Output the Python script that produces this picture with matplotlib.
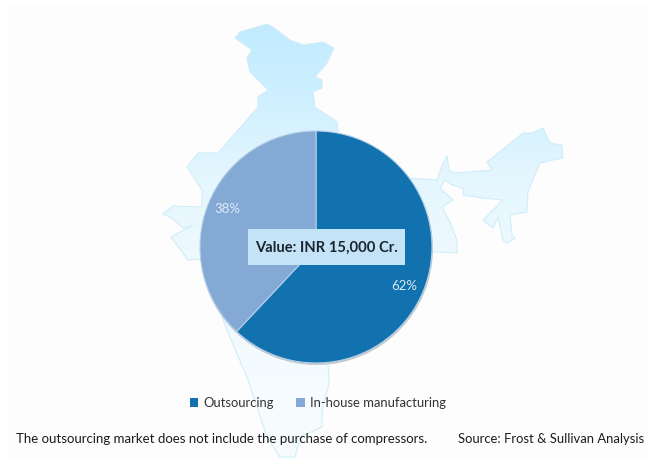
import numpy as np
import matplotlib
matplotlib.use("Agg")
import matplotlib.pyplot as plt
from matplotlib.patches import Polygon, Circle, Rectangle

categories = ["Outsourcing", "In-house manufacturing"]
shares = [62, 38]
slice_colors = ["#1272b0", "#84a9d4"]
value_label = "Value: INR 15,000 Cr."
footnote = "The outsourcing market does not include the purchase of compressors."
source = "Source: Frost & Sullivan Analysis"

# Decorative backdrop: outline of the map of India, in image pixels
map_outline = [
    (235, 38), (240, 32), (267, 24), (273, 27), (290, 40), (303, 45), (323, 42), (334, 48),
    (327, 63), (315, 77), (322, 80), (322, 88), (313, 92), (315, 107), (337, 122), (338, 132),
    (410, 178), (437, 180), (443, 163), (447, 156), (449, 170), (455, 173), (492, 170),
    (487, 162), (523, 133), (532, 133), (543, 128), (550, 143), (562, 145), (563, 158),
    (553, 160), (540, 163), (528, 192), (527, 212), (510, 215), (512, 235), (515, 238),
    (507, 243), (503, 240), (498, 217), (493, 228), (483, 220), (503, 200), (483, 198),
    (463, 195), (463, 188), (452, 185), (445, 180), (440, 188), (453, 200), (442, 207),
    (450, 222), (457, 240), (457, 253), (440, 252), (428, 252), (400, 300), (328, 362),
    (329, 383), (322, 410), (322, 427), (300, 437), (295, 457), (280, 457), (267, 437),
    (247, 377), (228, 333), (202, 259),
    (188, 260), (171, 237), (193, 225), (183, 228), (172, 218), (163, 214), (173, 206),
    (202, 207), (202, 190), (187, 167), (198, 153), (218, 153), (258, 107), (258, 97),
    (268, 90), (250, 72), (247, 58), (252, 50),
]

W, H = 652, 459
plt.rcParams["font.family"] = ["Lato", "DejaVu Sans"]
fig = plt.figure(figsize=(W / 100, H / 100), dpi=100, facecolor="white")

bg = fig.add_axes([0, 0, 1, 1])
bg.set_xlim(0, W)
bg.set_ylim(H, 0)
bg.axis("off")
bg.add_patch(Rectangle((8, 6), 640, 453, fc="#fdfdfd", ec="none", zorder=0))

# Map with vertical gradient fill (colour stops by image row)
stop_y = [30, 100, 170, 250, 400]
stop_c = np.array([[0xc2, 0xeb, 0xff], [0xcf, 0xf0, 0xff], [0xe3, 0xf6, 0xfe],
                   [0xee, 0xf9, 0xfe], [0xf6, 0xfc, 0xfe]]) / 255
rows = np.arange(20, 459)
grad = np.stack([np.interp(rows, stop_y, stop_c[:, i]) for i in range(3)], axis=1)[:, None, :]
im = bg.imshow(grad, extent=(150, 580, 459, 20), aspect="auto", zorder=1)
bg.set_xlim(0, W)
bg.set_ylim(H, 0)
poly = Polygon(map_outline, closed=True, fc="none", ec="#d0edf8", lw=0.8, zorder=2)
bg.add_patch(poly)
im.set_clip_path(poly)

# Pie shadow
bg.add_patch(Circle((316.5, 248.5), 116.5, fc="#c3c8cc", ec="none", zorder=3))

# Pie
cx, cy, R = 316, 247, 116
span = R * 1.02
pie_ax = fig.add_axes([(cx - span) / W, 1 - (cy + span) / H, 2 * span / W, 2 * span / H])
pie_ax.patch.set_alpha(0)
wedges, _, autotexts = pie_ax.pie(
    shares, colors=slice_colors, startangle=90, counterclock=False, radius=1,
    autopct=lambda p: f"{p:.0f}%", pctdistance=0.82,
    wedgeprops=dict(edgecolor="#b4d0e8", linewidth=0.8),
)
pie_ax.set_xlim(-1.02, 1.02)
pie_ax.set_ylim(-1.02, 1.02)
label_shift = [-0.035, 0.025]
for at, dy in zip(autotexts, label_shift):
    at.set_color("#dcebf7")
    at.set_fontsize(9.5)
    x, y = at.get_position()
    at.set_position((x, y + dy))

# Overlay in pixel coordinates
ov = fig.add_axes([0, 0, 1, 1])
ov.set_xlim(0, W)
ov.set_ylim(H, 0)
ov.axis("off")
ov.patch.set_alpha(0)
ov.add_patch(Rectangle((248, 229), 157, 36, fc="#c5e3f6", ec="none"))
ov.text(326.5, 248, value_label, ha="center", va="center", fontsize=10.6,
        fontweight="bold", color="#1a2530")
ov.text(16, 439, footnote, ha="left", va="center", fontsize=9.52, color="#1c1c1c")
ov.text(644, 439, source, ha="right", va="center", fontsize=9.35, color="#1c1c1c")

leg = ov.legend(wedges, categories, loc="center", bbox_to_anchor=(318 / W, 1 - 403 / H),
                bbox_transform=fig.transFigure, ncol=2, frameon=False, fontsize=9.4,
                handlelength=0.65, handleheight=0.65, handletextpad=0.4, columnspacing=1.7,
                labelcolor="#333333")
for h in leg.legend_handles:
    h.set_edgecolor("none")

fig.savefig("out.png", dpi=100, facecolor="white")
